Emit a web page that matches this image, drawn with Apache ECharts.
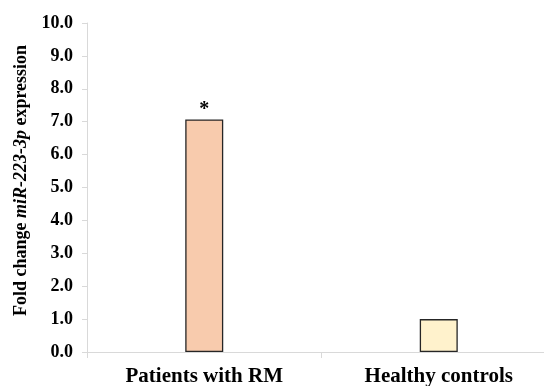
<!DOCTYPE html>
<html><head><meta charset="utf-8">
<script src="https://cdn.jsdelivr.net/npm/echarts@6/dist/echarts.min.js"></script>
<style>html,body{margin:0;padding:0;background:#fff}#c{width:544px;height:386px}</style>
</head><body><div id="c"></div>
<script>
var categories = ["Patients with RM", "Healthy controls"];
var values = [7.07, 1.0];
var barColors = ["#F8CBAD", "#FFF2CC"];
var sigMarks = ["*", ""];
var yTicks = [0, 1, 2, 3, 4, 5, 6, 7, 8, 9, 10];

var chart = echarts.init(document.getElementById('c'));
var font = '"Liberation Serif","Times New Roman",serif';
chart.setOption({
  animation: false,
  grid: {left: 87, width: 469, top: 23, height: 329, outerBoundsMode: 'none', containLabel: false},
  xAxis: {
    type: 'category', data: categories,
    axisLine: {lineStyle: {color: '#d9d9d9', width: 1}},
    axisTick: {show: true, length: 6, lineStyle: {color: '#d9d9d9'}},
    axisLabel: {fontFamily: font, fontWeight: 'bold', fontSize: 21, color: '#000', margin: 14}
  },
  yAxis: {
    type: 'value', min: 0, max: 10, interval: 1,
    name: '{b|Fold change }{i|miR-223-3p}{b| expression}',
    nameLocation: 'middle', nameGap: 55, nameRotate: 90,
    nameTextStyle: {
      padding: [0, 0, 0, 14],
      rich: {
        b: {fontFamily: font, fontWeight: 'bold', fontSize: 18, color: '#000'},
        i: {fontFamily: font, fontWeight: 'bold', fontStyle: 'italic', fontSize: 18, color: '#000'}
      }
    },
    axisLine: {show: true, lineStyle: {color: '#d9d9d9'}},
    axisTick: {show: true, length: 5, lineStyle: {color: '#d9d9d9'}},
    splitLine: {show: false},
    axisLabel: {fontFamily: font, fontWeight: 'bold', fontSize: 18, color: '#000', margin: 14,
      formatter: function (v) { return yTicks.indexOf(v) >= 0 ? v.toFixed(1) : ''; }}
  },
  series: [{
    type: 'bar', barWidth: 38,
    data: values.map(function (v, i) {
      return {value: v, itemStyle: {color: barColors[i], borderColor: '#262626', borderWidth: 1.3},
        label: {show: !!sigMarks[i], formatter: sigMarks[i], position: 'top', distance: 0,
          fontFamily: font, fontWeight: 'bold', fontSize: 20, color: '#000'}};
    })
  }]
});
</script></body></html>
